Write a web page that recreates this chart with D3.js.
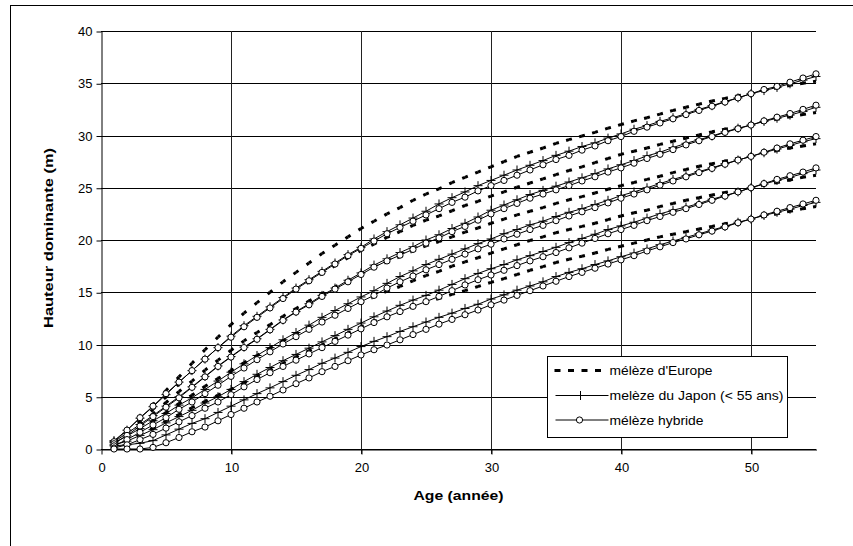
<!DOCTYPE html>
<html>
<head>
<meta charset="utf-8">
<script src="https://cdn.jsdelivr.net/npm/d3@7"></script>
<style>
body { margin: 0; background: #fff; }
svg { display: block; }
text { font-family: "Liberation Sans", Arial, sans-serif; fill: #000; }
</style>
</head>
<body>
<script>
// ages (années)
var ages = [1,2,3,4,5,6,7,8,9,10,11,12,13,14,15,16,17,18,19,20,21,22,23,24,25,26,27,28,29,30,
    31,32,33,34,35,36,37,38,39,40,41,42,43,44,45,46,47,48,49,50,51,52,53,54,55]

var yTicks = [0,5,10,15,20,25,30,35,40]
var xTicks = [0,10,20,30,40,50]

// mélèze d'Europe, 5 classes
var europe1 = [0.6,1.8,3.0,4.2,5.6,6.9,8.2,9.5,10.7,11.9, 13.0,14.0,15.0,16.0,16.9,17.8,18.7,19.5,20.3,21.1,
    21.8,22.5,23.1,23.8,24.4,24.9,25.5,26.0,26.5,27.0, 27.5,28.0,28.4,28.8,29.25,29.6,29.95,30.3,30.7,31.05,
    31.4,31.7,32.05,32.4,32.7,33.0,33.3,33.55,33.8,34.05, 34.3,34.55,34.8,35.0,35.2]
var europe2 = [0.55,1.6,2.7,3.8,5.0,6.2,7.4,8.55,9.65,10.7, 11.7,12.6,13.5,14.4,15.2,16.0,16.8,17.55,18.3,19.0,
    19.6,20.25,20.8,21.4,21.9,22.3,22.8,23.3,23.7,24.2, 24.6,25.05,25.45,25.85,26.25,26.65,27.0,27.4,27.8,28.2,
    28.5,28.8,29.15,29.45,29.75,30.05,30.35,30.6,30.8,31.05, 31.3,31.55,31.8,32.0,32.2]
var europe3 = [0.5,1.45,2.4,3.35,4.45,5.5,6.5,7.55,8.5,9.45, 10.35,11.15,11.9,12.7,13.45,14.15,14.85,15.5,16.15,16.8,
    17.35,17.9,18.4,18.95,19.45,19.85,20.3,20.75,21.15,21.6, 22.0,22.4,22.75,23.1,23.5,23.85,24.15,24.5,24.85,25.2,
    25.5,25.8,26.1,26.45,26.75,27.05,27.3,27.55,27.8,28.05, 28.3,28.55,28.8,29.0,29.2]
var europe4 = [0.4,1.1,1.9,2.65,3.5,4.35,5.15,6.0,6.75,7.5, 8.25,8.95,9.65,10.35,11.0,11.6,12.25,12.85,13.45,14.05,
    14.55,15.1,15.55,16.1,16.6,17.0,17.5,17.9,18.3,18.75, 19.15,19.55,19.95,20.3,20.7,21.0,21.3,21.6,21.95,22.3,
    22.6,22.85,23.2,23.5,23.8,24.05,24.3,24.55,24.8,25.0, 25.25,25.5,25.75,26.0,26.2]
var europe5 = [0.3,0.85,1.45,2.0,2.7,3.3,3.95,4.55,5.15,5.7, 6.3,6.95,7.55,8.2,8.8,9.4,9.95,10.55,11.1,11.7,
    12.2,12.65,13.1,13.6,14.05,14.4,14.8,15.15,15.55,15.95, 16.3,16.7,17.1,17.45,17.85,18.15,18.45,18.75,19.1,19.4,
    19.7,20.0,20.3,20.55,20.8,21.05,21.3,21.55,21.8,22.0, 22.25,22.5,22.75,23.0,23.2]

// mélèze du Japon, 5 classes
var japon1 = [0.8,1.8,2.95,4.05,5.2,6.4,7.5,8.6,9.7,10.8, 11.8,12.7,13.6,14.5,15.4,16.2,17.0,17.8,18.6,19.3,
    20.1,20.8,21.45,22.1,22.75,23.45,24.05,24.6,25.2,25.7, 26.2,26.7,27.15,27.6,28.1,28.5,28.95,29.3,29.75,30.15,
    30.6,30.95,31.35,31.7,32.1,32.5,32.85,33.25,33.6,34.0, 34.3,34.6,34.95,35.3,35.65]
var japon2 = [0.7,1.5,2.35,3.2,4.1,5.0,5.95,6.95,7.95,8.85, 9.75,10.55,11.45,12.35,13.15,13.9,14.7,15.4,16.15,16.85,
    17.6,18.2,18.8,19.35,20.0,20.5,21.1,21.6,22.2,22.85, 23.35,23.85,24.35,24.75,25.15,25.55,25.95,26.35,26.8,27.2,
    27.6,28.05,28.4,28.85,29.25,29.6,29.95,30.35,30.7,31.0, 31.35,31.65,31.95,32.3,32.7]
var japon3 = [0.6,1.25,1.95,2.7,3.4,4.2,4.9,5.7,6.5,7.35, 8.15,8.95,9.7,10.45,11.15,11.85,12.6,13.25,13.9,14.55,
    15.15,15.85,16.5,17.05,17.65,18.15,18.65,19.15,19.65,20.1, 20.6,21.0,21.45,21.8,22.25,22.65,23.0,23.4,23.8,24.25,
    24.6,25.0,25.4,25.8,26.15,26.55,26.9,27.3,27.65,28.0, 28.35,28.7,29.05,29.4,29.7]
var japon4 = [0.4,0.75,1.3,1.85,2.5,3.1,3.7,4.4,5.0,5.7, 6.45,7.15,7.8,8.45,9.05,9.65,10.25,10.85,11.45,12.05,
    12.65,13.2,13.75,14.25,14.7,15.2,15.75,16.3,16.8,17.25, 17.65,18.1,18.5,18.9,19.3,19.75,20.15,20.55,21.0,21.35,
    21.7,22.1,22.5,22.85,23.15,23.5,23.9,24.25,24.6,25.0, 25.35,25.7,26.0,26.35,26.7]
var japon5 = [0.3,0.4,0.55,0.8,1.35,1.9,2.45,2.9,3.5,4.1, 4.7,5.3,5.85,6.45,7.05,7.6,8.2,8.7,9.25,9.8,
    10.3,10.75,11.25,11.7,12.15,12.6,13.0,13.45,13.85,14.35, 14.75,15.2,15.6,16.0,16.5,16.9,17.25,17.65,18.0,18.4,
    18.75,19.15,19.55,19.9,20.25,20.6,20.95,21.3,21.7,22.0, 22.35,22.65,22.95,23.3,23.6]

// mélèze hybride, 5 classes
var hybride1 = [0.7,1.8,3.0,4.1,5.3,6.4,7.5,8.6,9.7,10.7, 11.7,12.6,13.5,14.4,15.3,16.1,16.9,17.7,18.5,19.2,
    19.9,20.6,21.2,21.8,22.4,23.0,23.6,24.1,24.7,25.2, 25.7,26.2,26.7,27.2,27.7,28.1,28.6,29.0,29.5,29.9,
    30.4,30.8,31.2,31.6,32.0,32.4,32.8,33.2,33.6,34.0, 34.4,34.7,35.1,35.5,35.9]
var hybride2 = [0.5,1.3,2.2,3.1,4.0,4.9,5.9,6.9,7.9,8.8, 9.7,10.5,11.4,12.3,13.1,13.8,14.6,15.3,16.0,16.7,
    17.4,18.0,18.55,19.1,19.7,20.2,20.8,21.3,21.9,22.5, 23.0,23.5,24.0,24.4,24.8,25.2,25.65,26.05,26.5,26.9,
    27.35,27.8,28.2,28.65,29.1,29.5,29.9,30.3,30.65,31.0, 31.4,31.75,32.1,32.5,32.9]
var hybride3 = [0.3,0.9,1.6,2.3,3.0,3.8,4.5,5.3,6.1,6.95, 7.75,8.55,9.3,10.05,10.75,11.45,12.15,12.8,13.45,14.1,
    14.7,15.4,16.0,16.55,17.15,17.65,18.15,18.65,19.15,19.6, 20.1,20.55,21.0,21.4,21.85,22.3,22.7,23.1,23.55,24.0,
    24.4,24.8,25.25,25.65,26.05,26.45,26.85,27.25,27.65,28.0, 28.4,28.8,29.2,29.55,29.9]
var hybride4 = [0.1,0.4,0.9,1.4,2.0,2.6,3.2,3.9,4.5,5.2, 5.95,6.65,7.3,7.9,8.5,9.1,9.7,10.3,10.9,11.5,
    12.1,12.65,13.15,13.65,14.1,14.6,15.15,15.7,16.2,16.65, 17.1,17.55,18.0,18.4,18.8,19.25,19.7,20.15,20.6,21.0,
    21.4,21.85,22.25,22.65,23.0,23.4,23.8,24.2,24.6,25.0, 25.4,25.8,26.15,26.5,26.9]
var hybride5 = [0.0,0.0,0.0,0.15,0.6,1.1,1.65,2.1,2.7,3.3, 3.9,4.5,5.05,5.65,6.25,6.8,7.4,7.9,8.45,9.0,
    9.5,9.95,10.45,10.95,11.45,11.95,12.4,12.85,13.3,13.8, 14.25,14.7,15.15,15.6,16.05,16.5,16.9,17.3,17.7,18.1,
    18.5,18.95,19.35,19.75,20.1,20.5,20.85,21.25,21.65,22.0, 22.4,22.75,23.1,23.45,23.8]

var europe = [europe1, europe2, europe3, europe4, europe5]
var japon = [japon1, japon2, japon3, japon4, japon5]
var hybride = [hybride1, hybride2, hybride3, hybride4, hybride5]

var width = 853, height = 546
var plot = { left: 101, right: 816, top: 31, bottom: 449 }

// scales
var x = d3.scaleLinear().domain([0, 55]).range([plot.left, plot.right])
var y = d3.scaleLinear().domain([0, 40]).range([plot.bottom, plot.top])

var toPoints = vals => vals.map((v, i) => [ages[i], v])

var valueline = d3.line()
    .x(d => x(d[0]))
    .y(d => y(d[1]))

var svg = d3.select('body').append('svg')
    .attr('width', width)
    .attr('height', height)

// chart frame (runs off the picture on the right and bottom)
svg.append('rect')
    .attr('x', 10.5).attr('y', 5.5)
    .attr('width', 900).attr('height', 600)
    .attr('fill', '#fff')
    .attr('stroke', '#000')

// grid
var grid = svg.append('g').attr('shape-rendering', 'crispEdges')
grid.selectAll('.hgrid')
    .data(yTicks)
    .enter().append('line')
    .attr('x1', plot.left).attr('x2', plot.right)
    .attr('y1', d => Math.round(y(d)) + 0.5).attr('y2', d => Math.round(y(d)) + 0.5)
    .attr('stroke', '#000')
grid.selectAll('.vgrid')
    .data(xTicks.slice(1))
    .enter().append('line')
    .attr('x1', d => Math.round(x(d)) + 0.5).attr('x2', d => Math.round(x(d)) + 0.5)
    .attr('y1', plot.top).attr('y2', plot.bottom + 5)
    .attr('stroke', '#222')

// y axis
var yAxis = svg.append('g')
    .attr('transform', `translate(${plot.left + 0.5}, 0.5)`)
    .call(d3.axisLeft(y).tickValues(yTicks).tickSize(5).tickPadding(4).tickSizeOuter(0))
yAxis.select('.domain').attr('stroke', '#000')
yAxis.selectAll('line').attr('stroke', '#000')
yAxis.selectAll('text').attr('font-size', 13).attr('font-family', '"Liberation Sans", Arial, sans-serif')

// x axis
var xAxis = svg.append('g')
    .attr('transform', `translate(0.5, ${plot.bottom + 0.5})`)
    .call(d3.axisBottom(x).tickValues(xTicks).tickSize(5).tickPadding(8).tickSizeOuter(0))
xAxis.select('.domain').attr('stroke', '#000')
xAxis.selectAll('line').attr('stroke', '#000')
xAxis.selectAll('text').attr('font-size', 13).attr('font-family', '"Liberation Sans", Arial, sans-serif')

// axis titles (text is drawn wider in the original, so stretch to its length)
svg.append('text')
    .attr('x', (plot.left + plot.right) / 2)
    .attr('y', 500)
    .attr('text-anchor', 'middle')
    .attr('font-weight', 'bold')
    .attr('font-size', 13)
    .attr('textLength', 90)
    .attr('lengthAdjust', 'spacingAndGlyphs')
    .text('Age (année)')

svg.append('text')
    .attr('transform', `translate(53, 238) rotate(-90)`)
    .attr('text-anchor', 'middle')
    .attr('font-weight', 'bold')
    .attr('font-size', 13)
    .attr('textLength', 180)
    .attr('lengthAdjust', 'spacingAndGlyphs')
    .text('Hauteur dominante (m)')

// mélèze d'Europe: thick dash centred on each yearly point
function drawEurope (g, pts) {
    for (let i = 0; i < pts.length - 1; i++) {
        let x1 = x(pts[i][0]), y1 = y(pts[i][1])
        let x2 = x(pts[i + 1][0]), y2 = y(pts[i + 1][1])
        let len = Math.hypot(x2 - x1, y2 - y1)
        g.append('line')
            .attr('x1', x1).attr('y1', y1)
            .attr('x2', x2).attr('y2', y2)
            .attr('stroke', '#000')
            .attr('stroke-width', 3)
            .attr('stroke-dasharray', `3 ${len - 6} 3`)
    }
}

var gEurope = svg.append('g')
europe.forEach(s => drawEurope(gEurope, toPoints(s)))

// mélèze du Japon: thin line with + markers
var plusPath = 'M-4.5,0H4.5M0,-4.5V4.5'
var gJapon = svg.append('g')
japon.forEach(s => {
    let pts = toPoints(s)
    gJapon.append('path')
        .datum(pts)
        .attr('d', valueline)
        .attr('fill', 'none')
        .attr('stroke', '#000')
        .attr('stroke-width', 1)
    gJapon.selectAll(null)
        .data(pts)
        .enter().append('path')
        .attr('transform', d => `translate(${x(d[0])}, ${y(d[1])})`)
        .attr('d', plusPath)
        .attr('stroke', '#000')
        .attr('stroke-width', 1)
})

// mélèze hybride: thin line with open circles
var gHybride = svg.append('g')
hybride.forEach(s => {
    let pts = toPoints(s)
    gHybride.append('path')
        .datum(pts)
        .attr('d', valueline)
        .attr('fill', 'none')
        .attr('stroke', '#000')
        .attr('stroke-width', 1)
    gHybride.selectAll(null)
        .data(pts)
        .enter().append('circle')
        .attr('cx', d => x(d[0]))
        .attr('cy', d => y(d[1]))
        .attr('r', 3.1)
        .attr('fill', '#fff')
        .attr('stroke', '#000')
        .attr('stroke-width', 1)
})

// legend
var legend = svg.append('g').attr('transform', 'translate(547.5, 356.5)')
legend.append('rect')
    .attr('width', 240).attr('height', 81)
    .attr('fill', '#fff').attr('stroke', '#000')

var legendItems = [
    { label: "mélèze d'Europe", kind: 'europe', cy: 14, len: 103 },
    { label: 'melèze du Japon (< 55 ans)', kind: 'japon', cy: 39, len: 174 },
    { label: 'mélèze hybride', kind: 'hybride', cy: 63.5, len: 94 }
]
legendItems.forEach(d => {
    if (d.kind === 'europe') {
        legend.append('line')
            .attr('x1', 7).attr('x2', 61).attr('y1', d.cy).attr('y2', d.cy)
            .attr('stroke', '#000').attr('stroke-width', 3)
            .attr('stroke-dasharray', '6 7.5')
    } else {
        legend.append('line')
            .attr('x1', 8).attr('x2', 61).attr('y1', d.cy).attr('y2', d.cy)
            .attr('stroke', '#000').attr('stroke-width', 1)
        if (d.kind === 'japon') {
            legend.append('path')
                .attr('transform', `translate(33, ${d.cy})`)
                .attr('d', plusPath)
                .attr('stroke', '#000')
        } else {
            legend.append('circle')
                .attr('cx', 32).attr('cy', d.cy).attr('r', 3.1)
                .attr('fill', '#fff').attr('stroke', '#000')
        }
    }
    legend.append('text')
        .attr('x', 62)
        .attr('y', d.cy + 4.5)
        .attr('font-size', 13)
        .attr('textLength', d.len)
        .attr('lengthAdjust', 'spacingAndGlyphs')
        .text(d.label)
})
</script>
</body>
</html>
